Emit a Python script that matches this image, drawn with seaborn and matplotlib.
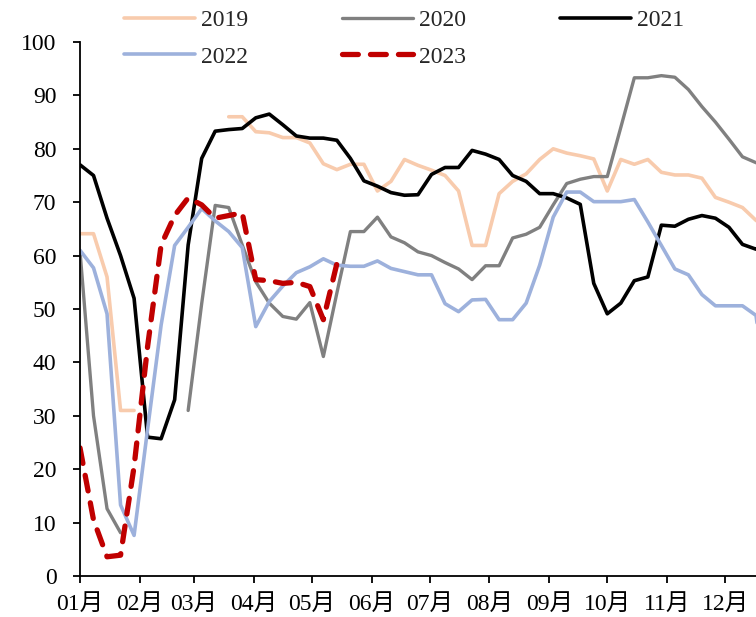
import pandas as pd
import numpy as np
import matplotlib
matplotlib.use('Agg')
import matplotlib.pyplot as plt
import matplotlib.dates as mdates
from matplotlib.lines import Line2D
import seaborn as sns

# Weekly readings (week 0 = 01-01), None = no data
V2019 = [64.1, 64.1, 56, 31, 31, None, None, None, None, None, None, 86, 86, 83.2, 83, 82.1, 82.1, 81.1,
         77.2, 76.1, 77.1, 77.1, 72.1, 73.9, 78, 76.9, 76, 75, 72.1, 61.9, 61.9, 71.6, 73.9, 75.3, 78, 80,
         79.2, 78.7, 78.1, 72.1, 78, 77.1, 78, 75.6, 75.1, 75.1, 74.5, 70.9, 70, 69, 66.6, 65]
V2020 = [60.8, 30, 12.6, 8.1, None, None, None, None, 31, 51, 69.4, 69, 62, 55.1, 51.1, 48.6, 48.1, 51.2,
         41.1, 53, 64.5, 64.5, 67.2, 63.5, 62.4, 60.7, 60, 58.7, 57.5, 55.5, 58.1, 58.1, 63.3, 64, 65.3,
         69.5, 73.5, 74.3, 74.8, 74.8, 84, 93.3, 93.3, 93.7, 93.4, 91.1, 87.9, 85, 81.8, 78.5, 77.4, 76.5]
V2021 = [77, 75, 67, 60, 52, 26, 25.7, 33, 62, 78.2, 83.3, 83.6, 83.8, 85.8, 86.5, 84.5, 82.4, 82, 82,
         81.6, 78.2, 74, 73, 71.8, 71.3, 71.4, 75.2, 76.5, 76.5, 79.7, 79, 78, 75, 73.9, 71.6, 71.6, 70.8,
         69.6, 54.8, 49.1, 51.1, 55.3, 56, 65.7, 65.5, 66.8, 67.5, 67, 65.3, 62.1, 61.2, 63]
V2022 = [61, 57.7, 49.1, 13.3, 7.6, 27.5, 47, 61.9, 65.3, 68.8, 66.5, 64.5, 61.5, 46.7, 51.4, 54.3, 56.8,
         57.9, 59.4, 58.2, 58, 58, 59, 57.6, 57, 56.4, 56.4, 51, 49.5, 51.7, 51.8, 48, 48, 51.1, 58.2, 67.2,
         71.9, 71.9, 70.1, 70.1, 70.1, 70.5, 66.3, 61.9, 57.5, 56.4, 52.7, 50.6, 50.6, 50.6, 48.8, 30]
V2023 = [24, 10.5, 3.6, 3.9, 20.5, 43, 62, 67.5, 70.8, 69.5, 67, 67.5, 68, 55.5, 55.3, 54.8, 55, 54.2,
         48, 58.5]

YEARS = ['2019', '2020', '2021', '2022', '2023']
SERIES = [V2019, V2020, V2021, V2022, V2023]
COLORS = ['#F8CBAD', '#808080', '#000000', '#9DB1DC', '#C00000']
WIDTHS = [2.6, 2.4, 2.6, 2.6, 3.8]

START = pd.Timestamp('2023-01-01')

rows = []
for yr, vals in zip(YEARS, SERIES):
    seg = 0
    prev_nan = True
    for i, v in enumerate(vals):
        if v is None:
            prev_nan = True
            continue
        if prev_nan:
            seg += 1
            prev_nan = False
        rows.append({'year': yr, 'date': START + pd.Timedelta(days=7 * i), 'value': v, 'seg': seg})
df = pd.DataFrame(rows)

sns.set_theme(style='ticks')
plt.rcParams['font.family'] = ['Liberation Serif', 'Noto Sans CJK SC']
plt.rcParams['font.size'] = 17

fig = plt.figure(figsize=(7.56, 6.17), dpi=100)
ax = fig.add_axes([80 / 756, 1 - 576 / 617, 1 - 80 / 756, (576 - 42) / 617])

handles = {}
for yr, col, lw in zip(YEARS, COLORS, WIDTHS):
    sub = df[df['year'] == yr]
    kw = dict(color=col, linewidth=lw, solid_capstyle='round', solid_joinstyle='round')
    if yr == '2023':
        kw = dict(color=col, linewidth=lw, linestyle=(0, (3.0, 2.3)), dash_capstyle='round',
                  dash_joinstyle='round')
    sns.lineplot(data=sub, x='date', y='value', units='seg', estimator=None, ax=ax,
                 legend=False, **kw)
    handles[yr] = Line2D([0], [0], label=yr, **kw)

ax.set_ylim(0, 100)
ax.set_yticks(range(0, 101, 10))
ax.set_xlim(START, START + pd.Timedelta(days=350))
ax.xaxis.set_major_locator(mdates.MonthLocator())
ax.xaxis.set_major_formatter(mdates.DateFormatter('%m月'))
ax.set_xlabel('')
ax.set_ylabel('')

sns.despine(ax=ax, top=True, right=True)
for s in ['left', 'bottom']:
    ax.spines[s].set_linewidth(1.3)
    ax.spines[s].set_color('black')
ax.tick_params(axis='both', direction='out', length=5, width=1.3, colors='black', labelsize=17)
ax.tick_params(axis='y', pad=12)
ax.tick_params(axis='x', pad=8)

# legend fills column-wise: order so rows read 2019 2020 2021 / 2022 2023
order = ['2019', '2022', '2020', '2023', '2021']
fig.legend(handles=[handles[k] for k in order], loc='upper left',
           bbox_to_anchor=(124 / 756, 0.985), ncol=3,
           frameon=False, fontsize=17, handlelength=3.0, handletextpad=0.25,
           columnspacing=4.0, labelspacing=0.65, borderpad=0, borderaxespad=0)

fig.savefig('out.png', dpi=100)
